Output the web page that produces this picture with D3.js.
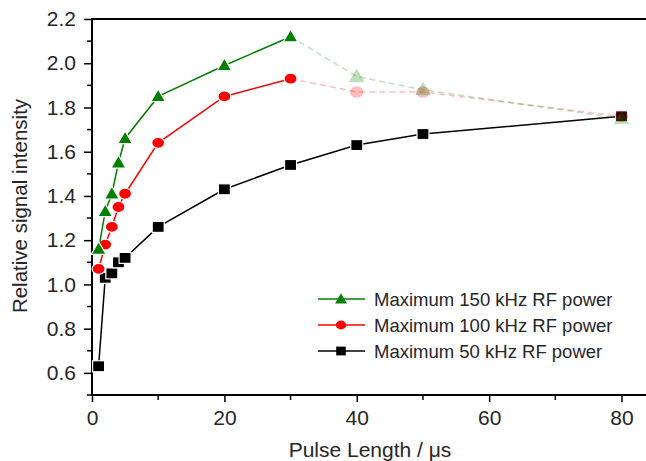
<!DOCTYPE html>
<html>
<head>
<meta charset="utf-8">
<script src="https://cdn.jsdelivr.net/npm/d3@7"></script>
<style>
  body { margin: 0; background: #fff; }
  text { font-family: "Liberation Sans", Arial, sans-serif; fill: #262626; }
</style>
</head>
<body>
<svg id="chart" width="646" height="461"></svg>
<script>
// pulse length in microseconds
const pulse = [1, 2, 3, 4, 5, 10, 20, 30, 40, 50, 80]
// relative signal intensity for each RF power setting
const p150 = [1.16, 1.33, 1.41, 1.55, 1.66, 1.85, 1.99, 2.12, 1.94, 1.88, 1.75]
const p100 = [1.07, 1.18, 1.26, 1.35, 1.41, 1.64, 1.85, 1.93, 1.87, 1.87, 1.76]
const p50 = [0.63, 1.03, 1.05, 1.10, 1.12, 1.26, 1.43, 1.54, 1.63, 1.68, 1.76]
// points after index 7 are drawn faded / dashed for 150 and 100 kHz
const solidEnd = 7
const legendLabels = ['Maximum 150 kHz RF power', 'Maximum 100 kHz RF power', 'Maximum 50 kHz RF power']
const xTicks = [0, 20, 40, 60, 80]
const xMinor = [10, 30, 50, 70]
const yTicks = [0.6, 0.8, 1.0, 1.2, 1.4, 1.6, 1.8, 2.0, 2.2]
const yMinor = [0.5, 0.7, 0.9, 1.1, 1.3, 1.5, 1.7, 1.9, 2.1]

const W = 646, H = 461
const M = { left: 92, top: 19, bottom: 395 }

const x = d3.scaleLinear().domain([0, 84]).range([M.left, M.left + 84 * 6.619])
const y = d3.scaleLinear().domain([0.5, 2.2]).range([M.bottom, M.top])

const svg = d3.select('#chart')

// axes
const xAxis = svg.append('g').attr('transform', 'translate(0,' + M.bottom + ')')
xAxis.call(d3.axisBottom(x).tickValues(xTicks).tickFormat(d3.format('d')).tickSize(7).tickPadding(8))
xAxis.selectAll('.tick line').attr('stroke', '#000').attr('stroke-width', 1.5)
xAxis.selectAll('.tick text').attr('font-size', 21).attr('fill', '#262626')
  .attr('font-family', '"Liberation Sans", Arial, sans-serif')
xAxis.select('.domain').remove()
xAxis.selectAll('.minor').data(xMinor).enter().append('line')
  .attr('x1', d => x(d)).attr('x2', d => x(d))
  .attr('y1', 0).attr('y2', 5)
  .attr('stroke', '#000').attr('stroke-width', 1.5)

const yAxis = svg.append('g').attr('transform', 'translate(' + M.left + ',0)')
yAxis.call(d3.axisLeft(y).tickValues(yTicks).tickFormat(d3.format('.1f')).tickSize(8).tickPadding(8))
yAxis.selectAll('.tick line').attr('stroke', '#000').attr('stroke-width', 1.5)
yAxis.selectAll('.tick text').attr('font-size', 21).attr('fill', '#262626')
  .attr('font-family', '"Liberation Sans", Arial, sans-serif')
yAxis.select('.domain').remove()
yAxis.selectAll('.minor').data(yMinor).enter().append('line')
  .attr('x1', -5).attr('x2', 0)
  .attr('y1', d => y(d)).attr('y2', d => y(d))
  .attr('stroke', '#000').attr('stroke-width', 1.5)

// frame lines
svg.append('line').attr('x1', M.left).attr('x2', W).attr('y1', M.bottom).attr('y2', M.bottom)
  .attr('stroke', '#000').attr('stroke-width', 2)
svg.append('line').attr('x1', M.left).attr('x2', W).attr('y1', M.top).attr('y2', M.top)
  .attr('stroke', '#000').attr('stroke-width', 2)
svg.append('line').attr('x1', M.left).attr('x2', M.left).attr('y1', M.top - 1).attr('y2', M.bottom + 1)
  .attr('stroke', '#000').attr('stroke-width', 2)

// axis titles
svg.append('text').attr('x', 370).attr('y', 457).attr('text-anchor', 'middle')
  .attr('font-size', 21).text('Pulse Length / μs')
svg.append('text').attr('transform', 'translate(27,206) rotate(-90)').attr('text-anchor', 'middle')
  .attr('font-size', 20.5).text('Relative signal intensity')

const tri = d3.symbol().type(d3.symbolTriangle)

function marker(g, kind, color, cx, cy, s) {
  if (kind === 'tri') {
    return g.append('path').attr('d', tri.size(95 * s * s)())
      .attr('transform', 'translate(' + cx + ',' + (cy + 1) + ')').attr('fill', color)
  } else if (kind === 'circ') {
    return g.append('ellipse').attr('cx', cx).attr('cy', cy).attr('rx', 6.5 * s).attr('ry', 5.5 * s).attr('fill', color)
  }
  return g.append('rect').attr('x', cx - 6 * s).attr('y', cy - 5.5 * s)
    .attr('width', 12 * s).attr('height', 11 * s).attr('fill', color)
}

const line = d3.line().x(d => x(d[0])).y(d => y(d[1]))

const series = [
  { vals: p50, color: '#000000', fade: '#000000', kind: 'sq', cut: pulse.length - 1 },
  { vals: p100, color: '#ff0000', fade: '#ff0000', kind: 'circ', cut: solidEnd },
  { vals: p150, color: '#008000', fade: '#008000', kind: 'tri', cut: solidEnd }
]

const plot = svg.append('g')
// solid parts
series.forEach(s => {
  const pts = pulse.map((p, i) => [p, s.vals[i]])
  const solid = pts.slice(0, s.cut + 1)
  plot.append('path').attr('d', line(solid)).attr('fill', 'none')
    .attr('stroke', s.color).attr('stroke-width', 1.5)
  solid.forEach(d => {
    marker(plot, s.kind, s.color, x(d[0]), y(d[1]), 1).attr('stroke', '#fff').attr('stroke-width', 1.2)
  })
})
// faded dashed parts
series.forEach(s => {
  if (s.cut >= pulse.length - 1) return
  const pts = pulse.map((p, i) => [p, s.vals[i]]).slice(s.cut)
  plot.append('path').attr('d', line(pts)).attr('fill', 'none')
    .attr('stroke', s.fade).attr('stroke-opacity', 0.25).attr('stroke-width', 1.5)
    .attr('stroke-dasharray', '6,4')
  pts.slice(1).forEach(d => {
    marker(plot, s.kind, s.fade, x(d[0]), y(d[1]), 1).attr('fill-opacity', 0.25)
      .attr('stroke', s.fade).attr('stroke-opacity', 0.1)
  })
})

// legend
const legend = svg.append('g')
const legendKinds = [series[2], series[1], series[0]]
legendLabels.forEach((lab, i) => {
  const ly = 299 + i * 26
  const s = legendKinds[i]
  legend.append('line').attr('x1', 318).attr('x2', 365).attr('y1', ly).attr('y2', ly)
    .attr('stroke', s.color).attr('stroke-width', 1.5)
  marker(legend, s.kind, s.color, 341, ly, 0.8)
  legend.append('text').attr('x', 374).attr('y', ly + 6.5).attr('font-size', 18.5).text(lab)
})
</script>
</body>
</html>
